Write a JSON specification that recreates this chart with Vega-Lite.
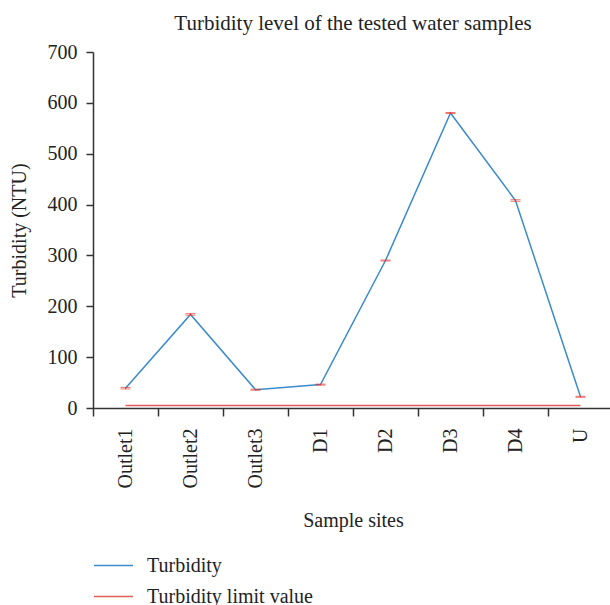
{
  "$schema": "https://vega.github.io/schema/vega-lite/v6.json",
  "autosize": {"type": "none"},
  "width": 520,
  "height": 356,
  "padding": {"left": 93, "top": 52, "right": 0, "bottom": 197},
  "background": "white",
  "title": {"text": "Turbidity level of the tested water samples", "font": "Liberation Serif", "fontSize": 21, "fontWeight": "normal", "color": "#222", "anchor": "middle", "offset": 8},
  "config": {
    "view": {"stroke": null},
    "font": "Liberation Serif",
    "axis": {"labelFont": "Liberation Serif", "titleFont": "Liberation Serif", "labelFontSize": 20, "titleFontSize": 20, "titleFontWeight": "normal", "labelColor": "#222", "titleColor": "#222", "domainColor": "#333", "tickColor": "#333", "domainWidth": 1.5, "tickWidth": 1.5, "tickSize": 8, "grid": false},
    "legend": {"labelFont": "Liberation Serif", "labelFontSize": 20, "labelColor": "#222", "labelLimit": 400}
  },
  "data": {"values": [
    {"site": "Outlet1", "series": "Turbidity", "value": 39, "lo": 37.5, "hi": 40.5},
    {"site": "Outlet2", "series": "Turbidity", "value": 184, "lo": 182.5, "hi": 185.5},
    {"site": "Outlet3", "series": "Turbidity", "value": 36, "lo": 35, "hi": 37},
    {"site": "D1", "series": "Turbidity", "value": 46, "lo": 45, "hi": 47},
    {"site": "D2", "series": "Turbidity", "value": 290, "lo": 289, "hi": 291},
    {"site": "D3", "series": "Turbidity", "value": 580, "lo": 579, "hi": 581},
    {"site": "D4", "series": "Turbidity", "value": 408, "lo": 406.5, "hi": 409.5},
    {"site": "U", "series": "Turbidity", "value": 22, "lo": 21, "hi": 23},
    {"site": "Outlet1", "series": "Turbidity limit value", "value": 5},
    {"site": "Outlet2", "series": "Turbidity limit value", "value": 5},
    {"site": "Outlet3", "series": "Turbidity limit value", "value": 5},
    {"site": "D1", "series": "Turbidity limit value", "value": 5},
    {"site": "D2", "series": "Turbidity limit value", "value": 5},
    {"site": "D3", "series": "Turbidity limit value", "value": 5},
    {"site": "D4", "series": "Turbidity limit value", "value": 5},
    {"site": "U", "series": "Turbidity limit value", "value": 5}
  ]},
  "layer": [
    {
      "mark": {"type": "line", "strokeWidth": 1.5},
      "encoding": {
        "x": {"field": "site", "type": "nominal", "sort": null, "bandPosition": 0.5,
              "scale": {"type": "band", "paddingInner": 0, "paddingOuter": 0},
              "axis": {"title": "Sample sites", "labelAngle": -90, "tickBand": "extent", "labelPadding": 12, "titlePadding": 23}},
        "y": {"field": "value", "type": "quantitative",
              "scale": {"domain": [0, 700], "nice": false},
              "axis": {"title": "Turbidity (NTU)", "values": [0, 100, 200, 300, 400, 500, 600, 700], "labelPadding": 9, "tickSize": 7, "titlePadding": 18}},
        "color": {"field": "series", "type": "nominal", "sort": ["Turbidity", "Turbidity limit value"],
                  "scale": {"domain": ["Turbidity", "Turbidity limit value"], "range": ["#3a8bcb", "#e35b5b"]},
                  "legend": {"title": null, "orient": "none", "legendX": 0, "legendY": 493, "symbolType": "stroke", "symbolSize": 1521, "symbolStrokeWidth": 1.5, "labelOffset": 13, "rowPadding": -10, "padding": 0, "labelLimit": 400}}
      }
    },
    {
      "transform": [{"filter": "datum.series === 'Turbidity'"}],
      "mark": {"type": "errorbar", "ticks": {"size": 10, "color": "#e8392f", "strokeWidth": 1.5}, "rule": {"color": "#e8392f"}, "color": "#e8392f"},
      "encoding": {
        "x": {"field": "site", "type": "nominal", "sort": null, "bandPosition": 0.5},
        "y": {"field": "lo", "type": "quantitative", "title": "Turbidity (NTU)"},
        "y2": {"field": "hi"}
      }
    }
  ]
}
